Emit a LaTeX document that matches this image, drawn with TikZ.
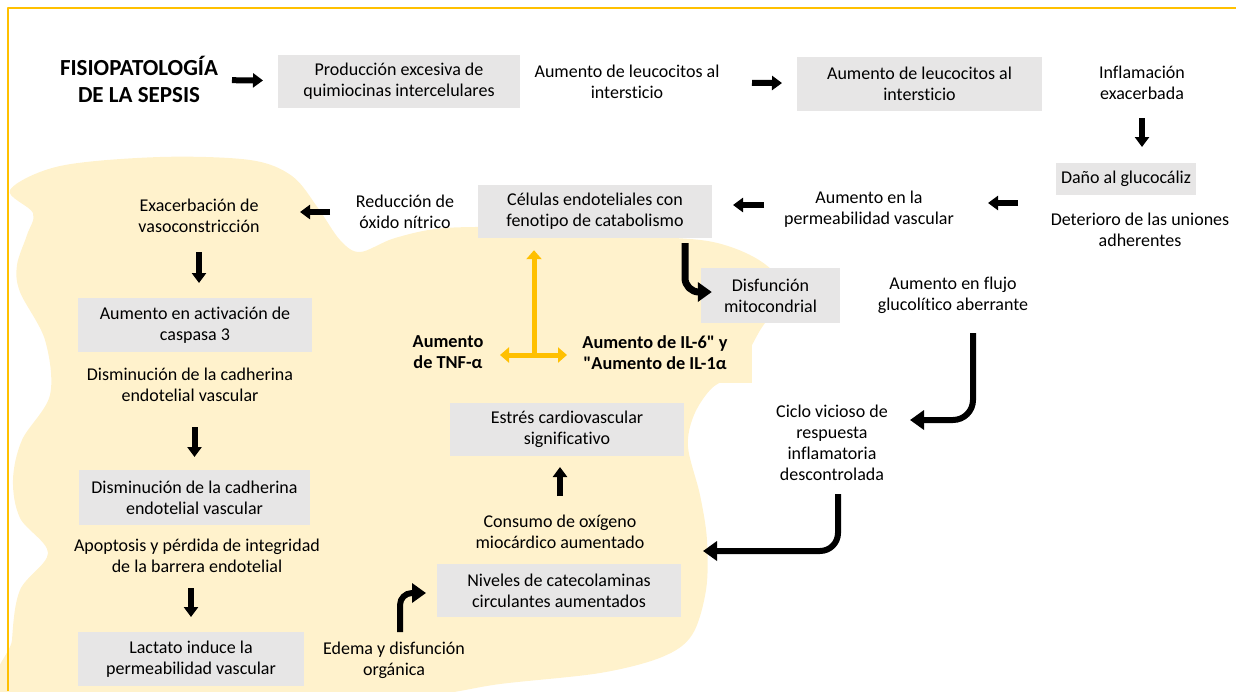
\documentclass[tikz,border=0pt]{standalone}
\usepackage{fontspec}
\setmainfont{Carlito}[Ligatures={TeXOff,NoCommon}]
\usetikzlibrary{arrows.meta}
\definecolor{gris}{HTML}{E7E6E6}
\definecolor{crema}{HTML}{FFF2CC}
\definecolor{oro}{HTML}{FFC000}
\begin{document}
\begin{tikzpicture}[x=1pt,y=-1pt,font=\fontsize{18}{21}\selectfont,line join=round,
	box/.style={fill=gris,minimum width=#1,minimum height=53pt,align=center,inner sep=0pt},
	txt/.style={align=center,inner sep=0pt},
	neg/.style={font=\fontsize{18.3}{21}\selectfont\bfseries,align=center,inner sep=0pt},
	blk/.style={line width=6pt,-{Triangle[length=10pt,width=14pt]}},
	curva/.style={line width=6pt,rounded corners=18pt,-{Triangle[length=14pt,width=19pt]}},
	ylw/.style={oro,line width=5pt}]
	\useasboundingbox (0,0) rectangle (1236,691);
	% fondo
	\begin{scope}
		\clip (0,0) rectangle (1236,691);
		\fill[crema] plot[smooth cycle,tension=0.55] coordinates {
			(10,190) (60,166) (160,157) (250,160) (292,176) (318,208) (340,240) (360,252)
			(395,238) (445,228) (530,228) (640,236) (713,242) (762,262) (790,295) (765,323)
			(752,345) (738,372) (712,388) (694,415) (688,447) (700,495) (707,540) (706,590)
			(692,635) (662,657) (600,673) (500,684) (430,695) (300,702) (12,702) (12,640)
			(20,590) (48,553) (20,518) (13,480) (22,440) (50,395) (45,340) (20,292)
			(17,265) (27,235) (33,213)};
		\fill[crema] (700,325) rectangle (752,383);
	\end{scope}
	\draw[oro,line width=2pt] (8,691)--(8,8)--(1236,8);
	% nodos
	\node[neg,font=\fontsize{23}{27}\selectfont\bfseries] (titulo) at (139,79.5) {FISIOPATOLOGÍA\\DE LA SEPSIS};
	\node[box=242pt] (prod) at (399,81.5) {Producción excesiva de\\quimiocinas intercelulares};
	\node[txt] (leuA) at (627,82) {Aumento de leucocitos al\\intersticio};
	\node[box=245pt,minimum height=54pt] (leuB) at (919.5,84) {Aumento de leucocitos al\\intersticio};
	\node[txt] (infl) at (1142,83) {Inflamación\\exacerbada};
	\node[box=140pt,minimum height=32pt] (dano) at (1126,179) {Daño al glucocáliz};
	\node[txt] (deter) at (1140,230) {Deterioro de las uniones\\adherentes};
	\node[txt] (perm) at (869,209) {Aumento en la\\permeabilidad vascular};
	\node[box=234pt] (endo) at (595,211.5) {Células endoteliales con\\fenotipo de catabolismo};
	\node[txt] (nitr) at (405,212) {Reducción de\\óxido nítrico};
	\node[txt] (vaso) at (199,216) {Exacerbación de\\vasoconstricción};
	\node[box=234pt,minimum height=54pt] (casp) at (195,325) {Aumento en activación de\\caspasa 3};
	\node[txt] (cadA) at (190,385) {Disminución de la cadherina\\endotelial vascular};
	\node[box=231pt,minimum height=55pt] (cadB) at (194.5,497.5) {Disminución de la cadherina\\endotelial vascular};
	\node[txt] (apop) at (197,556) {Apoptosis y pérdida de integridad\\de la barrera endotelial};
	\node[box=226pt,minimum height=54pt] (lact) at (191,659) {Lactato induce la\\permeabilidad vascular};
	\node[txt] (edema) at (394,660) {Edema y disfunción\\orgánica};
	\node[box=244pt] (cate) at (559,590.5) {Niveles de catecolaminas\\circulantes aumentados};
	\node[txt] (oxig) at (560,532) {Consumo de oxígeno\\miocárdico aumentado};
	\node[box=234pt] (estres) at (567,429.5) {Estrés cardiovascular\\significativo};
	\node[neg] (tnf) at (448,352) {Aumento\\de TNF-α};
	\node[neg] (il) at (655,353) {Aumento de IL-6" y\\"Aumento de IL-1α};
	\node[box=139pt,minimum height=55pt] (mito) at (770.5,295.5) {Disfunción\\mitocondrial};
	\node[txt] (fluj) at (953,295) {Aumento en flujo\\glucolítico aberrante};
	\node[txt] (ciclo) at (832,443) {Ciclo vicioso de\\respuesta\\inflamatoria\\descontrolada};
	% flechas rectas
	\draw[blk,shorten <=93pt,shorten >=136pt] (titulo.center)--(prod.center);
	\draw[blk,shorten <=125pt,shorten >=137.5pt] (leuA.center)--(leuB.center);
	\draw[blk,shorten <=35pt,shorten >=32pt] (infl.center)--(infl.center |- dano.center);
	\draw[blk,shorten <=122pt,shorten >=119pt] ([yshift=27pt]deter.center)--([yshift=27pt]deter.center -| perm.center);
	\draw[blk,shorten <=105pt,shorten >=138pt] ([yshift=4pt]perm.center)--([yshift=4pt]perm.center -| endo.center);
	\draw[blk,shorten <=75pt,shorten >=101pt] (nitr.center)--(nitr.center -| vaso.center);
	\draw[blk,shorten <=36pt,shorten >=42pt] (vaso.center)--(vaso.center |- casp.center);
	\draw[blk,shorten <=42pt,shorten >=40.5pt] (cadB.center |- cadA.center)--(cadB.center);
	\draw[blk,shorten <=32pt,shorten >=42pt] (lact.center |- apop.center)--(lact.center);
	\draw[blk,shorten <=36pt,shorten >=37.5pt] (oxig.center)--(oxig.center |- estres.center);
	% flechas curvas
	\draw[curva,line width=7pt,rounded corners=14pt] ([xshift=90pt,yshift=-5pt]endo.south) |- ([xshift=11pt,yshift=3.5pt]mito.west);
	\draw[curva,rounded corners=20pt] ([xshift=20pt,yshift=-38pt]fluj.center) |- ([xshift=78pt,yshift=23pt]ciclo.center);
	\draw[curva] ([xshift=6pt,yshift=-51pt]ciclo.center) |- ([xshift=143pt,yshift=-19pt]oxig.center);
	\draw[curva,rounded corners=12pt] ([xshift=6pt,yshift=28pt]edema.center) |- ([xshift=-133pt,yshift=-2.5pt]cate.center);
	% citoquinas
	\coordinate (cruce) at (534,357);
	\draw[ylw,{Triangle[length=9pt,width=15pt]}-{Triangle[length=9pt,width=15pt]},shorten <=52pt,shorten >=88pt] ([yshift=-3pt]tnf.center)--([yshift=-3pt]tnf.center -| il.center);
	\draw[ylw,-{Triangle[length=9pt,width=15pt]},shorten >=12pt] (cruce)--(cruce |- endo.south);
\end{tikzpicture}
\end{document}
